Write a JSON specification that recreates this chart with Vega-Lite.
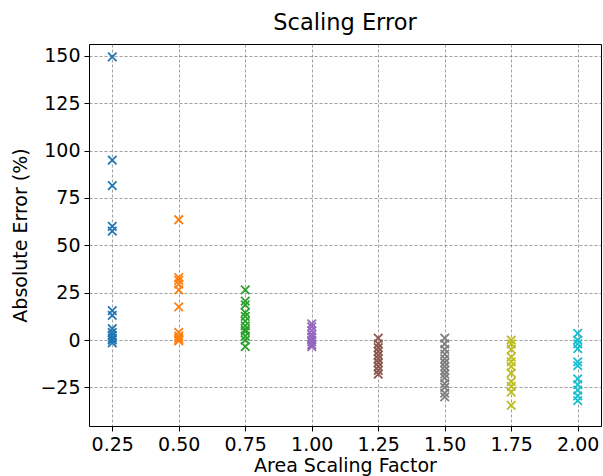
{
  "$schema": "https://vega.github.io/schema/vega-lite/v6.json",
  "width": 512,
  "height": 382,
  "autosize": "none",
  "padding": {"left": 89, "top": 44, "right": 2, "bottom": 50},
  "background": "white",
  "title": {"text": "Scaling Error", "font": "DejaVu Sans", "fontSize": 22.5, "fontWeight": "normal", "color": "black", "offset": 10},
  "config": {
    "view": {"stroke": "black", "strokeWidth": 1},
    "axis": {
      "labelFont": "DejaVu Sans", "labelFontSize": 19, "labelColor": "black",
      "titleFont": "DejaVu Sans", "titleFontSize": 19, "titleFontWeight": "normal", "titleColor": "black",
      "tickColor": "black", "tickSize": 5, "labelPadding": 4, "domain": false,
      "gridColor": "#777777", "gridDash": [3, 2], "gridWidth": 0.7
    }
  },
  "data": {"values": [
    {"f": 0.25, "e": 149.5}, {"f": 0.25, "e": 95}, {"f": 0.25, "e": 81.5}, {"f": 0.25, "e": 60}, {"f": 0.25, "e": 57.5},
    {"f": 0.25, "e": 15.5}, {"f": 0.25, "e": 13}, {"f": 0.25, "e": 6}, {"f": 0.25, "e": 4}, {"f": 0.25, "e": 2.5},
    {"f": 0.25, "e": 1}, {"f": 0.25, "e": 0}, {"f": 0.25, "e": -1.5},
    {"f": 0.5, "e": 63.5}, {"f": 0.5, "e": 33}, {"f": 0.5, "e": 31.5}, {"f": 0.5, "e": 29.5}, {"f": 0.5, "e": 26.5},
    {"f": 0.5, "e": 17.5}, {"f": 0.5, "e": 4}, {"f": 0.5, "e": 2}, {"f": 0.5, "e": 1}, {"f": 0.5, "e": 0}, {"f": 0.5, "e": -0.5},
    {"f": 0.75, "e": 26.5}, {"f": 0.75, "e": 20.5}, {"f": 0.75, "e": 18.5}, {"f": 0.75, "e": 14.5}, {"f": 0.75, "e": 12.5},
    {"f": 0.75, "e": 10}, {"f": 0.75, "e": 7.5}, {"f": 0.75, "e": 5.5}, {"f": 0.75, "e": 4.5}, {"f": 0.75, "e": 2}, {"f": 0.75, "e": 0}, {"f": 0.75, "e": -3.5},
    {"f": 1.0, "e": 8.5}, {"f": 1.0, "e": 7}, {"f": 1.0, "e": 5}, {"f": 1.0, "e": 3}, {"f": 1.0, "e": 1.5},
    {"f": 1.0, "e": 0}, {"f": 1.0, "e": -1}, {"f": 1.0, "e": -2.5}, {"f": 1.0, "e": -3.5},
    {"f": 1.25, "e": 1}, {"f": 1.25, "e": -2}, {"f": 1.25, "e": -4}, {"f": 1.25, "e": -6}, {"f": 1.25, "e": -8},
    {"f": 1.25, "e": -10}, {"f": 1.25, "e": -12}, {"f": 1.25, "e": -14}, {"f": 1.25, "e": -16}, {"f": 1.25, "e": -18},
    {"f": 1.5, "e": 1}, {"f": 1.5, "e": -2}, {"f": 1.5, "e": -5}, {"f": 1.5, "e": -7.5}, {"f": 1.5, "e": -10},
    {"f": 1.5, "e": -12}, {"f": 1.5, "e": -14}, {"f": 1.5, "e": -16}, {"f": 1.5, "e": -18}, {"f": 1.5, "e": -20},
    {"f": 1.5, "e": -23}, {"f": 1.5, "e": -25}, {"f": 1.5, "e": -28}, {"f": 1.5, "e": -30},
    {"f": 1.75, "e": 0}, {"f": 1.75, "e": -2}, {"f": 1.75, "e": -5}, {"f": 1.75, "e": -9}, {"f": 1.75, "e": -11.5},
    {"f": 1.75, "e": -14}, {"f": 1.75, "e": -17.5}, {"f": 1.75, "e": -22}, {"f": 1.75, "e": -24.5}, {"f": 1.75, "e": -27.5}, {"f": 1.75, "e": -34.5},
    {"f": 2.0, "e": 3.5}, {"f": 2.0, "e": 0}, {"f": 2.0, "e": -2}, {"f": 2.0, "e": -4.5}, {"f": 2.0, "e": -11.5},
    {"f": 2.0, "e": -13.5}, {"f": 2.0, "e": -20.5}, {"f": 2.0, "e": -23.5}, {"f": 2.0, "e": -26.5}, {"f": 2.0, "e": -29.5}, {"f": 2.0, "e": -32}
  ]},
  "mark": {"type": "point", "shape": "M-1,-1L1,1M-1,1L1,-1", "filled": false, "size": 72, "strokeWidth": 1.8, "opacity": 1, "clip": true},
  "encoding": {
    "x": {"field": "f", "type": "quantitative",
      "scale": {"domain": [0.1625, 2.0875], "nice": false, "zero": false},
      "axis": {"values": [0.25, 0.5, 0.75, 1.0, 1.25, 1.5, 1.75, 2.0], "format": ".2f", "title": "Area Scaling Factor", "titlePadding": 2}},
    "y": {"field": "e", "type": "quantitative",
      "scale": {"domain": [-45.4, 156.3], "nice": false, "zero": false},
      "axis": {"values": [-25, 0, 25, 50, 75, 100, 125, 150], "title": "Absolute Error (%)", "titlePadding": 9}},
    "color": {"field": "f", "type": "nominal", "legend": null,
      "scale": {"domain": [0.25, 0.5, 0.75, 1.0, 1.25, 1.5, 1.75, 2.0],
        "range": ["#1f77b4", "#ff7f0e", "#2ca02c", "#9467bd", "#8c564b", "#7f7f7f", "#bcbd22", "#17becf"]}}
  }
}
